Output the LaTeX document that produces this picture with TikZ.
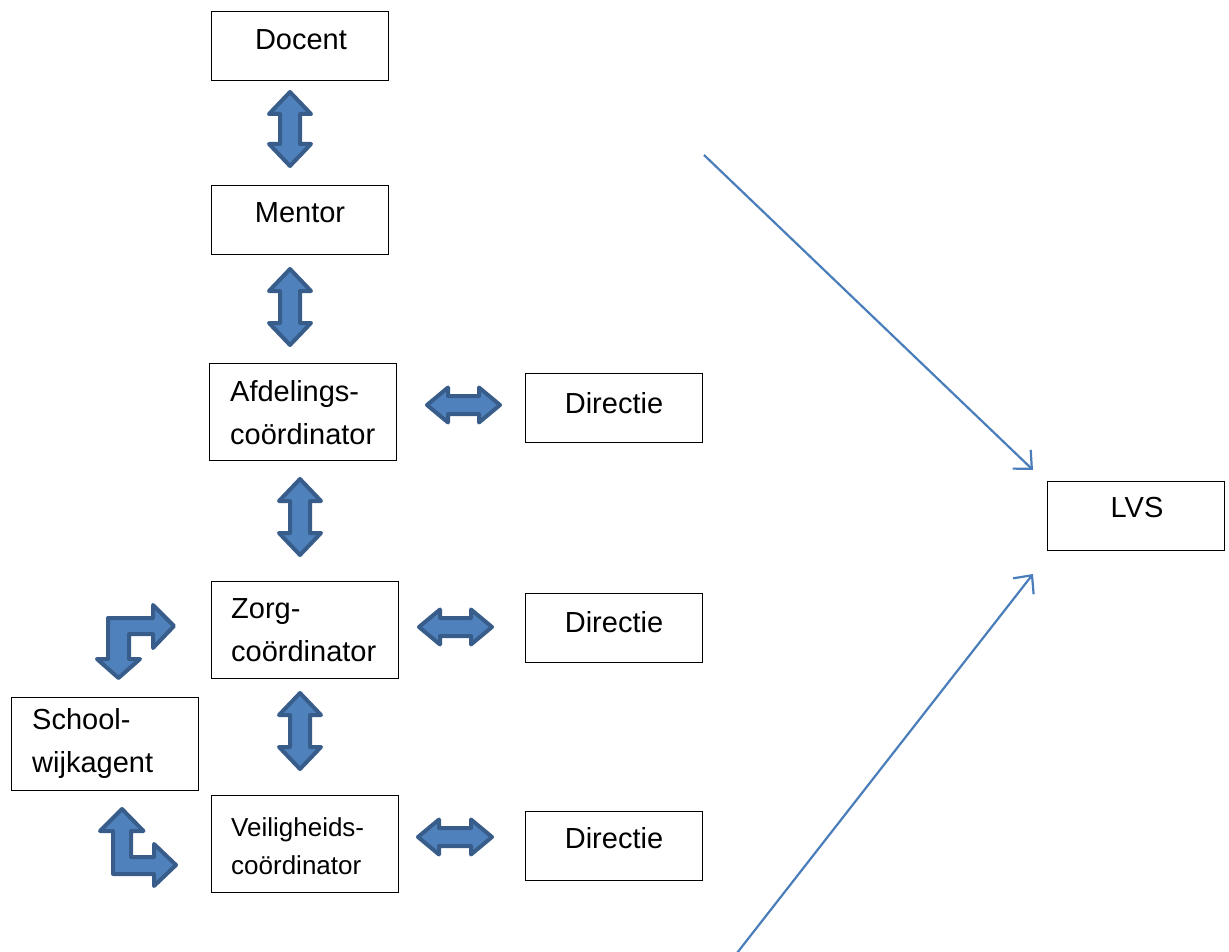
\documentclass[tikz,border=0pt]{standalone}
\usepackage{fontspec}
\setmainfont{Liberation Sans}
\usetikzlibrary{arrows.meta}
\definecolor{blkfill}{HTML}{4F81BD}
\definecolor{blkline}{HTML}{385D8A}
\definecolor{conline}{HTML}{4A7EBB}
\newcommand{\vdblarr}[3]{% x, ytop, ybot
  \draw[blockarrow] (#1,#2+2) -- (#1+21,#2+24) -- (#1+10,#2+24) -- (#1+10,#3-24) -- (#1+21,#3-24) -- (#1,#3-2) -- (#1-21,#3-24) -- (#1-10,#3-24) -- (#1-10,#2+24) -- (#1-21,#2+24) -- cycle;}
\newcommand{\hdblarr}[3]{% y, xleft, xright
  \draw[blockarrow] (#2+2,#1) -- (#2+23,#1-17.5) -- (#2+23,#1-9) -- (#3-23,#1-9) -- (#3-23,#1-17.5) -- (#3-2,#1) -- (#3-23,#1+17.5) -- (#3-23,#1+9) -- (#2+23,#1+9) -- (#2+23,#1+17.5) -- cycle;}
\begin{document}
\begin{tikzpicture}[x=1pt,y=-1pt,
  box/.style={draw=black,line width=1.6pt,fill=white,inner sep=0pt},
  txt/.style={inner sep=0pt,font=\fontsize{29}{43}\selectfont},
  smalltxt/.style={inner sep=0pt,font=\fontsize{26}{38}\selectfont},
  blockarrow/.style={draw=blkline,fill=blkfill,line width=4pt,line join=round},
  conn/.style={draw=conline,line width=2.2pt,-{Straight Barb[length=14pt,width=26pt,line width=2.2pt]}}]
\useasboundingbox (0,0) rectangle (1229,952);
% boxes
\node[box,minimum width=177pt,minimum height=69pt] (docent) at (300,46) {};
\node[txt] (docentT) at (301,40) {Docent};
\node[box,minimum width=177pt,minimum height=69pt] (mentor) at (300,220) {};
\node[txt] (mentorT) at (300,213) {Mentor};
\node[box,minimum width=187pt,minimum height=97pt] (afd) at (303,412) {};
\node[txt,align=left,anchor=west] (afdT) at (230,413) {Afdelings-\\coördinator};
\node[box,minimum width=177pt,minimum height=69pt] (dir1) at (614,408) {};
\node[txt] (dir1T) at (614,403) {Directie};
\node[box,minimum width=187pt,minimum height=97pt] (zorg) at (305,630) {};
\node[txt,align=left,anchor=west] (zorgT) at (231,630) {Zorg-\\coördinator};
\node[box,minimum width=177pt,minimum height=69pt] (dir2) at (614,628) {};
\node[txt] (dir2T) at (614,622) {Directie};
\node[box,minimum width=187pt,minimum height=93pt] (school) at (105,744) {};
\node[txt,align=left,anchor=west] (schoolT) at (32,743) {School-\\wijkagent};
\node[box,minimum width=187pt,minimum height=97pt] (veil) at (305,844) {};
\node[smalltxt,align=left,anchor=west] (veilT) at (231,846) {Veiligheids-\\coördinator};
\node[box,minimum width=177pt,minimum height=69pt] (dir3) at (614,846) {};
\node[txt] (dir3T) at (614,838) {Directie};
\node[box,minimum width=177pt,minimum height=69pt] (lvs) at (1136,516) {};
\node[txt] (lvsT) at (1137,508) {LVS};
% vertical double arrows
\vdblarr{290}{90}{168}
\vdblarr{290}{267}{347}
\vdblarr{300}{477}{557}
\vdblarr{300}{691}{771}
% horizontal double arrows
\hdblarr{405}{425}{502}
\hdblarr{627}{417}{494}
\hdblarr{837}{416}{494}
% bent arrows
\draw[blockarrow] (118.5,678) -- (140,659) -- (129,659) -- (129,634) -- (153,634) -- (153,648) -- (174,626) -- (153,605) -- (153,618) -- (108,618) -- (108,659) -- (97,659) -- cycle;
\draw[blockarrow] (122,809) -- (143.5,831) -- (131,831) -- (131,857) -- (154,857) -- (154,844) -- (176,865) -- (154,886) -- (154,874) -- (113,874) -- (113,831) -- (100,831) -- cycle;
% connectors to LVS
\coordinate (l1s) at (704,155);
\coordinate (l1e) at (1033,470);
\coordinate (l2s) at (737,953);
\coordinate (l2e) at (1033,574);
\draw[conn] (l1s) -- (l1e);
\draw[conn] (l2s) -- (l2e);
\end{tikzpicture}
\end{document}
